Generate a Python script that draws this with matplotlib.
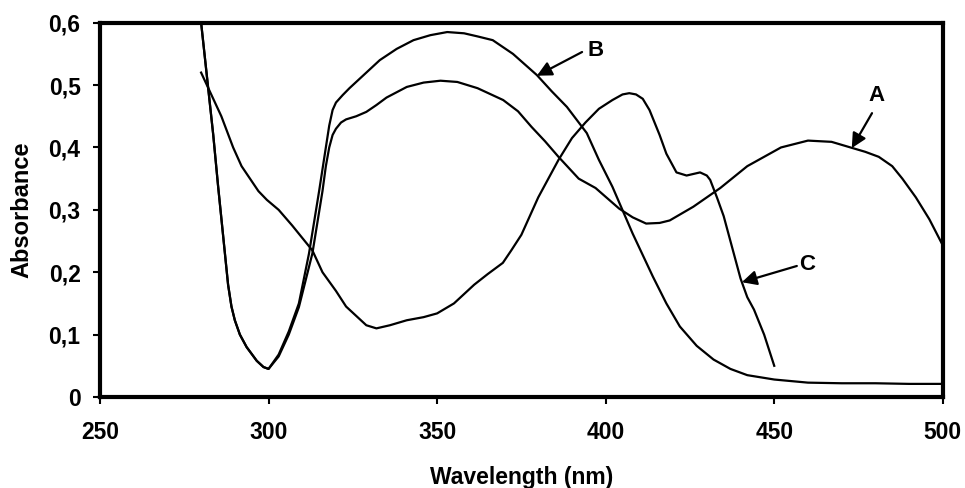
import numpy as np
import matplotlib
matplotlib.use("Agg")
import matplotlib.pyplot as plt

plt.rcParams['font.family'] = ['Liberation Sans', 'DejaVu Sans']
plt.rcParams['font.weight'] = 'bold'

# curve A
xa = [280, 281, 282, 283.6, 285, 286.5, 288, 289, 290, 291.5, 293.5, 296.5, 298.5, 300,
      303, 306, 309, 313, 316, 317, 318, 319, 320, 321.5, 323, 326,
      329, 332, 335, 341, 346, 351, 356, 362, 369.6, 374, 378, 382, 386, 392, 397, 404, 408,
      412, 416, 419, 426, 434, 442, 452, 460, 467, 472, 477, 481, 485, 488, 492, 496, 500]
ya = [0.60, 0.55, 0.50, 0.42, 0.34, 0.26, 0.18, 0.145, 0.123, 0.10, 0.08, 0.058, 0.048, 0.045,
      0.065, 0.10, 0.144, 0.23, 0.33, 0.37, 0.40, 0.42, 0.43, 0.44, 0.445, 0.45,
      0.457, 0.468, 0.48, 0.497, 0.504, 0.507, 0.505, 0.495, 0.476, 0.458, 0.433, 0.41, 0.385, 0.35, 0.335, 0.302, 0.288,
      0.278, 0.279, 0.283, 0.305, 0.335, 0.37, 0.40, 0.411, 0.409, 0.401, 0.393, 0.385, 0.37, 0.35, 0.32, 0.285, 0.243]

# curve B
xb = [280, 281, 282, 283.6, 285, 286.5, 288, 289, 290, 291.5, 293.5, 296.5, 298.5, 300,
      303, 306, 309, 312, 315, 317, 318, 319, 320, 322, 324,
      326, 329, 333, 338, 343, 348, 353, 358, 362, 366.5, 372.5, 379.6, 384, 388.5, 394.4, 398,
      402, 408, 414, 418, 422, 427, 432, 437, 442, 450, 460, 470, 480, 490, 500]
yb = [0.60, 0.55, 0.50, 0.42, 0.34, 0.26, 0.18, 0.145, 0.123, 0.10, 0.08, 0.058, 0.048, 0.045,
      0.068, 0.105, 0.15, 0.23, 0.33, 0.40, 0.435, 0.46, 0.472, 0.484, 0.495,
      0.505, 0.52, 0.54, 0.558, 0.572, 0.58, 0.585, 0.583, 0.578, 0.572, 0.55, 0.516, 0.49, 0.465, 0.423, 0.38,
      0.337, 0.262, 0.193, 0.15, 0.113, 0.082, 0.06, 0.045, 0.035, 0.028, 0.023, 0.022, 0.022, 0.021, 0.021]

# curve C
xc = [280, 283, 286, 289.5, 292, 294.5, 297, 299.5, 303, 307, 310, 313, 316, 320, 323, 326, 329, 332,
      336, 341, 346, 350, 355, 361, 365, 369.5, 372, 375, 380, 386, 390, 394, 398, 402,
      405, 407, 409, 411, 413, 416, 418, 421, 424, 428, 430, 431, 433, 435, 438, 440,
      442, 444, 447, 450]
yc = [0.52, 0.485, 0.45, 0.40, 0.37, 0.35, 0.33, 0.316, 0.30, 0.275, 0.255, 0.235, 0.20, 0.17, 0.145, 0.13, 0.115, 0.11,
      0.115, 0.123, 0.128, 0.134, 0.15, 0.18, 0.197, 0.215, 0.235, 0.26, 0.32, 0.38, 0.415, 0.44, 0.462, 0.476,
      0.485, 0.487, 0.485, 0.478, 0.46, 0.42, 0.39, 0.36, 0.355, 0.36, 0.355, 0.348, 0.32, 0.29, 0.23, 0.19,
      0.16, 0.14, 0.10, 0.05]

xticks = [250, 300, 350, 400, 450, 500]
yticks = [0, 0.1, 0.2, 0.3, 0.4, 0.5, 0.6]
ylabels = ['0', '0,1', '0,2', '0,3', '0,4', '0,5', '0,6']

fig = plt.figure(figsize=(9.65, 4.88), dpi=100)
ax = fig.add_axes([0.1036, 0.1865, 0.977 - 0.1036, 0.9535 - 0.1865])

for xs, ys in [(xa, ya), (xb, yb), (xc, yc)]:
    ax.plot(xs, ys, color='black', lw=1.6, solid_joinstyle='round')

ax.set_xlim(250, 500)
ax.set_ylim(0, 0.6)
ax.set_xticks(xticks)
ax.set_xticklabels([str(v) for v in xticks])
ax.set_yticks(yticks)
ax.set_yticklabels(ylabels)
ax.tick_params(direction='out', length=5, width=1.5, labelsize=16.5)
ax.tick_params(axis='x', pad=12)
ax.tick_params(axis='y', pad=9)
for s in ax.spines.values():
    s.set_linewidth(3)

ax.set_xlabel('Wavelength (nm)', fontsize=16.5, fontweight='bold', labelpad=16)
ax.set_ylabel('Absorbance', fontsize=17, fontweight='bold', labelpad=11)

arrow = dict(arrowstyle='-|>', color='black', lw=1.6, mutation_scale=22, shrinkA=0, shrinkB=0)
ax.annotate('', xy=(379.6, 0.515), xytext=(393, 0.553), arrowprops=arrow)
ax.text(394.5, 0.556, 'B', fontsize=16, fontweight='bold', va='center', ha='left')
ax.annotate('', xy=(440.4, 0.184), xytext=(456.7, 0.21), arrowprops=arrow)
ax.text(457.5, 0.212, 'C', fontsize=16, fontweight='bold', va='center', ha='left')
ax.annotate('', xy=(473, 0.399), xytext=(479, 0.455), arrowprops=arrow)
ax.text(480.4, 0.484, 'A', fontsize=16, fontweight='bold', va='center', ha='center')

fig.savefig('out.png', dpi=100)
